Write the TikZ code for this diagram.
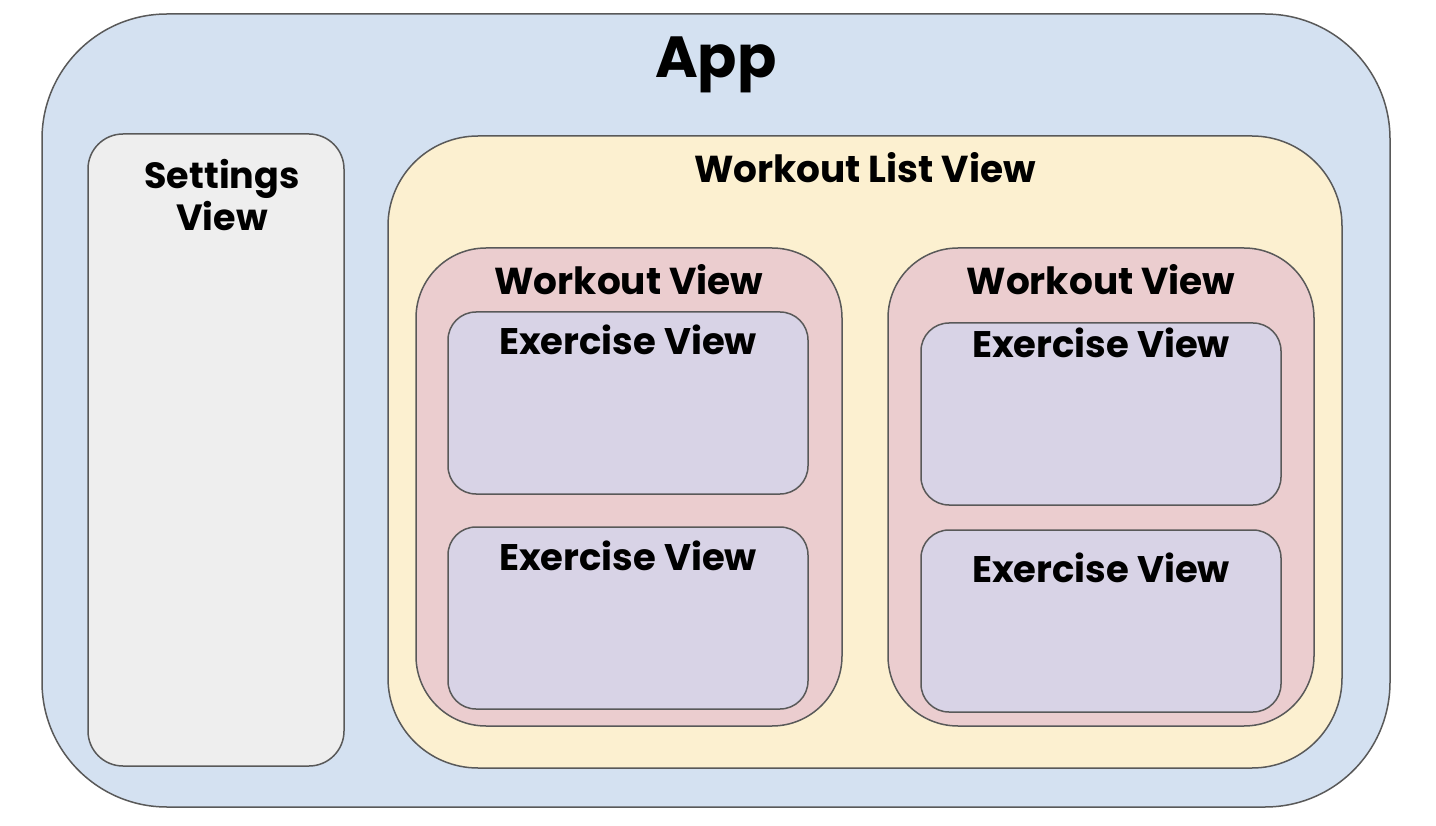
\documentclass[tikz,border=0pt]{standalone}
\usepackage{fontspec}
\setmainfont{Poppins}
\definecolor{appfill}{HTML}{D4E1F1}
\definecolor{setfill}{HTML}{EEEEEE}
\definecolor{listfill}{HTML}{FCF0D0}
\definecolor{wofill}{HTML}{EBCDCF}
\definecolor{exfill}{HTML}{D8D3E6}
\definecolor{edge}{HTML}{595959}
\tikzset{
  box/.style={draw=edge, line width=1.5pt},
  lbl/.style={inner sep=0pt, font=\bfseries, anchor=base, text=black},
  wfont/.style={font=\bfseries\fontsize{37.5}{42}\selectfont},
  efont/.style={font=\bfseries\fontsize{37}{42}\selectfont},
}
\begin{document}
\begin{tikzpicture}[x=1pt,y=-1pt]
\useasboundingbox (0,0) rectangle (1436,826);
\fill[white] (0,0) rectangle (1436,826);
\draw[box, fill=appfill, rounded corners=125pt] (42,14) rectangle (1390,807);
\node[lbl, font=\bfseries\fontsize{58}{66}\selectfont] (app) at (716,78) {App};
\draw[box, fill=setfill, rounded corners=35pt] (88,134) rectangle (344,766);
\node[lbl, anchor=center, align=center, font=\bfseries\fontsize{36.5}{42}\selectfont] (set) at (222,195) {Settings\\View};
\draw[box, fill=listfill, rounded corners=90pt] (388,136) rectangle (1342,768);
\node[lbl, wfont] (list) at (865,183) {Workout List View};
\draw[box, fill=wofill, rounded corners=70pt] (416,248) rectangle (842,726);
\node[lbl, wfont] (w1) at (629,295) {Workout View};
\draw[box, fill=wofill, rounded corners=70pt] (888,248) rectangle (1314,726);
\node[lbl, wfont] (w2) at (1101,295) {Workout View};
\draw[box, fill=exfill, rounded corners=28pt] (448,312) rectangle (808,494);
\node[lbl, efont] (e1) at (628,355) {Exercise View};
\draw[box, fill=exfill, rounded corners=28pt] (448,527) rectangle (808,709);
\node[lbl, efont] (e2) at (628,570) {Exercise View};
\draw[box, fill=exfill, rounded corners=28pt] (921,323) rectangle (1281,505);
\node[lbl, efont] (e3) at (1101,358) {Exercise View};
\draw[box, fill=exfill, rounded corners=28pt] (921,530) rectangle (1281,712);
\node[lbl, efont] (e4) at (1101,582) {Exercise View};
\end{tikzpicture}
\end{document}
